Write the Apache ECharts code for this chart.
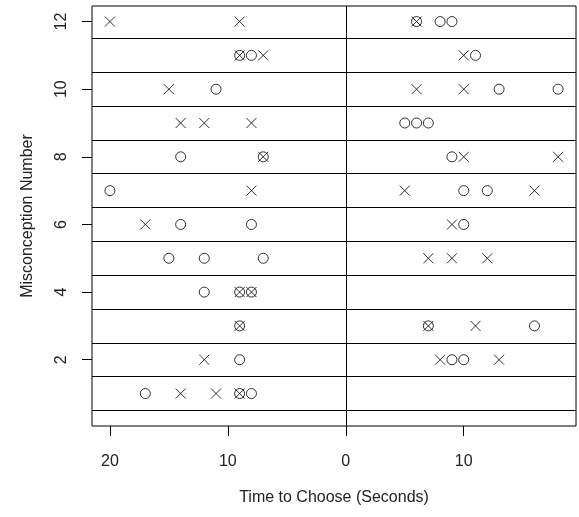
<!DOCTYPE html>
<html>
<head>
<meta charset="utf-8">
<script src="https://cdn.jsdelivr.net/npm/echarts@6/dist/echarts.min.js"></script>
<style>html,body{margin:0;padding:0;background:#fff}#c{width:579px;height:517px}</style>
</head>
<body>
<div id="c"></div>
<script>
// Times (seconds) and misconception numbers, [time, misconception]
var leftCircles = [[9,11],[8,11],[11,10],[14,8],[7,8],[20,7],[14,6],[8,6],[15,5],[12,5],[7,5],[12,4],[9,4],[8,4],[9,3],[9,2],[17,1],[9,1],[8,1]];
var leftCrosses = [[20,12],[9,12],[9,11],[7,11],[15,10],[14,9],[12,9],[8,9],[7,8],[8,7],[17,6],[9,4],[8,4],[9,3],[12,2],[14,1],[11,1],[9,1]];
var rightCircles = [[6,12],[8,12],[9,12],[11,11],[13,10],[18,10],[5,9],[6,9],[7,9],[9,8],[10,7],[12,7],[10,6],[7,3],[16,3],[9,2],[10,2]];
var rightCrosses = [[6,12],[10,11],[6,10],[10,10],[10,8],[18,8],[5,7],[16,7],[9,6],[7,5],[9,5],[12,5],[7,3],[11,3],[8,2],[13,2]];
var xTicks = [-20, -10, 0, 10];
var yTicks = [2, 4, 6, 8, 10, 12];
var rowDividers = [0.5,1.5,2.5,3.5,4.5,5.5,6.5,7.5,8.5,9.5,10.5,11.5];

function toLeft(a){ return a.map(function(p){ return [-p[0], p[1]]; }); }

var crossPath = 'path://M0,0L10,10M10,0L0,10';
var font = 'Liberation Sans, Arial, sans-serif';

var chart = echarts.init(document.getElementById('c'), null, {renderer:'canvas'});
var circleStyle = {color:'rgba(0,0,0,0)', borderColor:'#000', borderWidth:1};
var crossStyle = {color:'rgba(0,0,0,0)', borderColor:'#000', borderWidth:1};

chart.setOption({
  animation: false,
  backgroundColor: '#fff',
  grid: {left: 92, right: 3, top: 6, bottom: 91, show: true, borderColor: '#000', borderWidth: 1, backgroundColor:'transparent'},
  xAxis: {
    type: 'value', min: -21.52, max: 19.52,
    splitLine: {show: false},
    axisLine: {show: false, onZero: false},
    axisTick: {show: true, inside: false, length: 10, lineStyle:{color:'#000'}, customValues: xTicks},
    axisLabel: {show: true, margin: 28, color:'#222', fontSize: 16, fontFamily: font, customValues: xTicks,
      formatter: function(v){ return String(Math.abs(v)); }},
    name: 'Time to Choose (Seconds)', nameLocation: 'middle', nameGap: 64,
    nameTextStyle: {color:'#222', fontSize: 16, fontFamily: font}
  },
  yAxis: {
    type: 'value', min: 0.04, max: 12.46,
    splitLine: {show: false},
    axisLine: {show: false, onZero: false},
    axisTick: {show: true, inside: false, length: 10, lineStyle:{color:'#000'}, customValues: yTicks},
    axisLabel: {show: true, rotate: 90, margin: 22, color:'#222', fontSize: 16, fontFamily: font, customValues: yTicks},
    name: 'Misconception Number', nameLocation: 'middle', nameGap: 56, nameRotate: 90,
    nameTextStyle: {color:'#222', fontSize: 16, fontFamily: font}
  },
  series: [
    {type:'scatter', data: toLeft(leftCircles), symbol:'circle', symbolSize: 10, itemStyle: circleStyle,
      markLine: {silent: true, symbol: ['none','none'], label:{show:false}, animation:false,
        lineStyle: {color:'#000', type:'solid', width: 1},
        data: rowDividers.map(function(v){ return {yAxis: v}; }).concat([{xAxis: 0}])}},
    {type:'scatter', data: toLeft(leftCrosses), symbol: crossPath, symbolSize: 10, itemStyle: crossStyle},
    {type:'scatter', data: rightCircles, symbol:'circle', symbolSize: 10, itemStyle: circleStyle},
    {type:'scatter', data: rightCrosses, symbol: crossPath, symbolSize: 10, itemStyle: crossStyle}
  ]
});
</script>
</body>
</html>
